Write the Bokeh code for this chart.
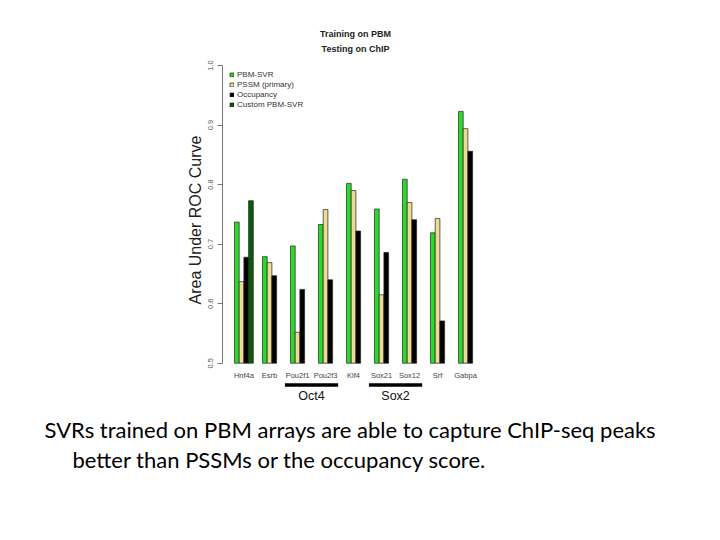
from bokeh.plotting import figure
from bokeh.models import Range1d, FixedTicker, PrintfTickFormatter, Legend, LegendItem
from bokeh.layouts import column
from bokeh.embed import file_html
from bokeh.resources import INLINE
from bokeh.core.properties import value

# ---------------- data ----------------
tfs = ["Hnf4a", "Esrb", "Pou2f1", "Pou2f3", "Klf4", "Sox21", "Sox12", "Srf", "Gabpa"]
pbm_svr = [0.737, 0.679, 0.697, 0.733, 0.802, 0.759, 0.809, 0.719, 0.923]
pssm_primary = [0.637, 0.669, 0.552, 0.758, 0.790, 0.615, 0.770, 0.743, 0.894]
occupancy = [0.678, 0.647, 0.624, 0.640, 0.722, 0.686, 0.741, 0.571, 0.856]
custom_tfs = ["Hnf4a"]
custom_pbm_svr = [0.773]
groups = ["Oct4", "Sox2"]
group_members = [["Pou2f1", "Pou2f3"], ["Sox21", "Sox12"]]
series_names = ["PBM-SVR", "PSSM (primary)", "Occupancy", "Custom PBM-SVR"]
series_colors = ["#2ad92a", "#ecdc92", "#000000", "#0b5a0b"]
y_ticks = [0.5, 0.6, 0.7, 0.8, 0.9, 1.0]
title_lines = ["Training on PBM", "Testing on ChIP"]
caption_lines = ["SVRs trained on PBM arrays are able to capture ChIP-seq peaks",
                 "better than PSSMs or the occupancy score."]

# ---------------- layout helpers ----------------
BASE = 0.5
W = 0.168  # bar width (group units)
idx = {t: i for i, t in enumerate(tfs)}

p = figure(width=498, height=415, output_backend="svg", toolbar_location=None,
           x_axis_location=None, title=None,
           x_range=Range1d(-0.68, 8.82), y_range=Range1d(0.4155, 1.0656),
           min_border_left=222, min_border_right=10, min_border_top=26, min_border_bottom=2)
p.outline_line_color = None
p.xgrid.visible = False
p.ygrid.visible = False
p.background_fill_color = "white"
p.frame_align = False

renderers = []
series_vals = [pbm_svr, pssm_primary, occupancy]
for k, vals in enumerate(series_vals):
    xs = [i + (k - 1) * W for i in range(len(tfs))]
    r = p.vbar(x=xs, top=vals, bottom=BASE, width=W, fill_color=series_colors[k],
               line_color="#222222", line_width=0.7)
    renderers.append(r)
xs_c = [idx[t] + 2 * W for t in custom_tfs]
r = p.vbar(x=xs_c, top=custom_pbm_svr, bottom=BASE, width=W, fill_color=series_colors[3],
           line_color="#222222", line_width=0.7)
renderers.append(r)

legend = Legend(items=[LegendItem(label=n, renderers=[rr]) for n, rr in zip(series_names, renderers)],
                location=(7, 304), label_text_font_size="8px", label_text_color="#333333",
                label_text_font="Liberation Sans",
                glyph_width=5, glyph_height=5, label_height=10, label_standoff=3,
                spacing=0, padding=0, margin=0, border_line_alpha=0, background_fill_alpha=0)
p.add_layout(legend)

# y axis
ya = p.yaxis[0]
ya.ticker = FixedTicker(ticks=y_ticks)
ya.formatter = PrintfTickFormatter(format="%.1f")
ya.bounds = (0.5, 1.0)
ya.major_label_orientation = "parallel"
ya.major_label_text_font_size = "7.5px"
ya.major_label_text_color = "#555555"
ya.major_label_text_font = "Liberation Sans"
ya.major_label_standoff = 4
ya.major_tick_out = 5
ya.major_tick_in = 0
ya.minor_tick_line_color = None
ya.axis_line_color = "#777777"
ya.major_tick_line_color = "#777777"
ya.axis_label = "Area Under ROC Curve"
ya.axis_label_text_font = "Liberation Sans"
ya.axis_label_text_font_size = "16px"
ya.axis_label_text_font_style = "normal"
ya.axis_label_text_color = "#222222"
ya.axis_label_standoff = 2

# category labels under the bars
label_x = [i + (0.5 * W if t in custom_tfs else 0.0) for i, t in enumerate(tfs)]
p.text(x=label_x, y=[BASE - 0.0207] * len(tfs), text=tfs, text_align="center",
       text_baseline="middle", text_font=value("Liberation Sans"), text_font_size="7.5px",
       text_color="#444444")

# group underlines and labels
gx0 = [min(idx[m] for m in mem) - 0.45 for mem in group_members]
gx1 = [max(idx[m] for m in mem) + 0.45 for mem in group_members]
p.segment(x0=gx0, x1=gx1, y0=[BASE - 0.0366] * 2, y1=[BASE - 0.0366] * 2,
          line_color="black", line_width=3.5)
gxc = [(a + b) / 2 for a, b in zip(gx0, gx1)]
p.text(x=gxc, y=[BASE - 0.0545] * 2, text=groups, text_align="center", text_baseline="middle",
       text_font=value("Liberation Sans"), text_font_size="12.5px", text_color="#111111")

# title (two bold lines)
xc = (p.x_range.start + p.x_range.end) / 2
p.text(x=[xc, xc], y=[1.0538, 1.027], text=title_lines, text_align="center",
       text_baseline="middle", text_font=value("Liberation Sans"), text_font_size="9px",
       text_font_style="bold", text_color="#222222")

# caption figure
p2 = figure(width=712, height=110, output_backend="svg", toolbar_location=None,
            x_axis_location=None, y_axis_location=None, title=None,
            x_range=Range1d(0, 712), y_range=Range1d(110, 0),
            min_border=0)
p2.frame_align = False
p2.outline_line_color = None
p2.xgrid.visible = False
p2.ygrid.visible = False
p2.text(x=[44, 72], y=[14, 44], text=caption_lines, text_align="left", text_baseline="middle",
        text_font=value("Lato"), text_font_size="22px", text_color="#000000")

layout = column(p, p2, spacing=0)
open("out.html", "w").write(file_html(layout, INLINE))
